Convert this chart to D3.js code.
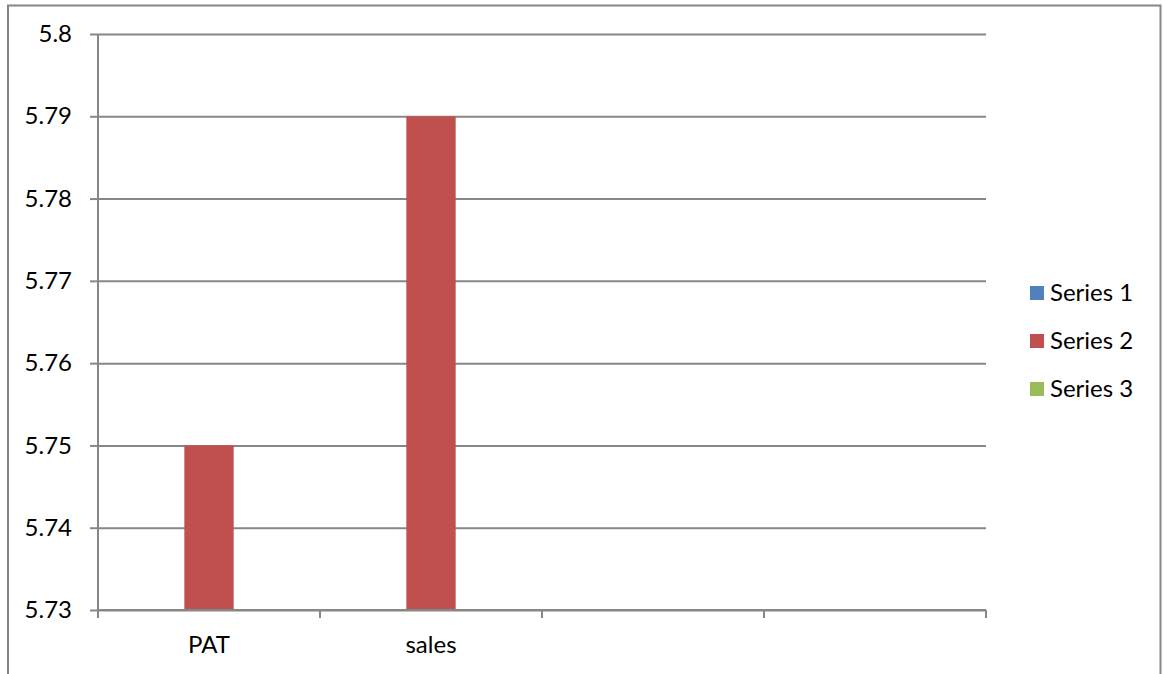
<!DOCTYPE html>
<html>
<head>
<meta charset="utf-8">
<script src="https://cdn.jsdelivr.net/npm/d3@7"></script>
<style>
  body { margin: 0; background: #fff; }
  svg { display: block; }
</style>
</head>
<body>
<svg class="barchart" width="1163" height="674"></svg>
<script>
// chart data
var categories = ["PAT", "sales", "", ""]
var seriesNames = ["Series 1", "Series 2", "Series 3"]
var series1 = [null, null, null, null]
var series2 = [5.75, 5.79, null, null]
var series3 = [null, null, null, null]
var yTicks = [5.73, 5.74, 5.75, 5.76, 5.77, 5.78, 5.79, 5.8]
var colors = ["#4f81bd", "#c0504d", "#9bbb59"]

var svg = d3.select("svg.barchart")
var width = +svg.attr("width")
var height = +svg.attr("height")
var margin = ({ top: 34, right: 177, bottom: 64, left: 98 })
var font = "Lato, 'Open Sans', sans-serif"
var fontSize = 24
var gridColor = "#878787"

// outer chart frame (bottom runs off the page)
svg.append("path")
    .attr("d", "M8,700V5.5H1160.5V700")
    .attr("fill", "none")
    .attr("stroke", "#868686")
    .attr("stroke-width", 2)

var allSeries = [series1, series2, series3]
var rows = categories.map((c, i) => {
    var row = { idx: i, label: c }
    seriesNames.forEach((s, j) => { row[s] = allSeries[j][i] })
    return row
})

var x0 = d3.scaleBand()
    .domain(rows.map(d => d.idx))
    .range([margin.left, width - margin.right])
    .paddingInner(0)

var x1 = d3.scaleBand()
    .domain(seriesNames)
    .range([0, x0.bandwidth()])
    .paddingInner(0)
    .paddingOuter(0.75)

var y = d3.scaleLinear()
    .domain([5.73, 5.8])
    .range([height - margin.bottom, margin.top])

var color = d3.scaleOrdinal()
    .domain(seriesNames)
    .range(colors)

// horizontal gridlines with left ticks
svg.append("g")
    .attr("transform", `translate(${margin.left},0)`)
    .call(d3.axisLeft(y)
        .tickValues(yTicks)
        .tickSize(8)
        .tickFormat(d => String(+d.toFixed(2))))
    .call(g => g.select(".domain").remove())
    .call(g => g.selectAll(".tick line").attr("stroke", gridColor).attr("stroke-width", 2))
    .call(g => g.selectAll(".tick line").clone()
        .attr("x1", 0)
        .attr("x2", width - margin.right - margin.left))
    .call(g => g.selectAll(".tick text")
        .attr("x", -26)
        .attr("fill", "#000")
        .attr("font-family", font)
        .attr("font-size", fontSize))

// bars
svg.append("g")
    .selectAll("g")
    .data(rows)
    .enter()
    .append("g")
    .attr("transform", d => `translate(${x0(d.idx)},0)`)
    .selectAll("rect")
    .data(d => seriesNames.map(key => ({ key, value: d[key] })).filter(v => v.value != null))
    .enter()
    .append("rect")
    .attr("x", d => x1(d.key))
    .attr("y", d => y(d.value))
    .attr("width", x1.bandwidth())
    .attr("height", d => y(5.73) - y(d.value))
    .attr("fill", d => color(d.key))

// left axis line
svg.append("line")
    .attr("x1", margin.left).attr("x2", margin.left)
    .attr("y1", margin.top).attr("y2", height - margin.bottom)
    .attr("stroke", gridColor).attr("stroke-width", 2)

// bottom axis
var xAxis = svg.append("g")
    .attr("transform", `translate(0,${height - margin.bottom})`)
xAxis.append("line")
    .attr("x1", margin.left).attr("x2", width - margin.right)
    .attr("stroke", gridColor).attr("stroke-width", 2)
var bounds = x0.domain().map(i => x0(i)).concat([width - margin.right])
xAxis.selectAll("line.tk")
    .data(bounds)
    .enter()
    .append("line")
    .attr("class", "tk")
    .attr("x1", d => d).attr("x2", d => d)
    .attr("y1", 0).attr("y2", 8)
    .attr("stroke", gridColor).attr("stroke-width", 2)
xAxis.selectAll("text")
    .data(rows)
    .enter()
    .append("text")
    .attr("x", d => x0(d.idx) + x0.bandwidth() / 2)
    .attr("y", 35)
    .attr("dy", "0.35em")
    .attr("text-anchor", "middle")
    .attr("font-family", font)
    .attr("font-size", fontSize)
    .text(d => d.label)

// legend
var legend = svg.append("g")
    .attr("transform", "translate(1030,293)")
    .selectAll("g")
    .data(seriesNames)
    .enter()
    .append("g")
    .attr("transform", (d, i) => `translate(0,${i * 48})`)
legend.append("rect")
    .attr("x", 0)
    .attr("y", -7)
    .attr("width", 14)
    .attr("height", 14)
    .attr("fill", color)
legend.append("text")
    .attr("x", 20)
    .attr("y", 0)
    .attr("dy", "0.35em")
    .attr("font-family", font)
    .attr("font-size", fontSize)
    .text(d => d)
</script>
</body>
</html>
